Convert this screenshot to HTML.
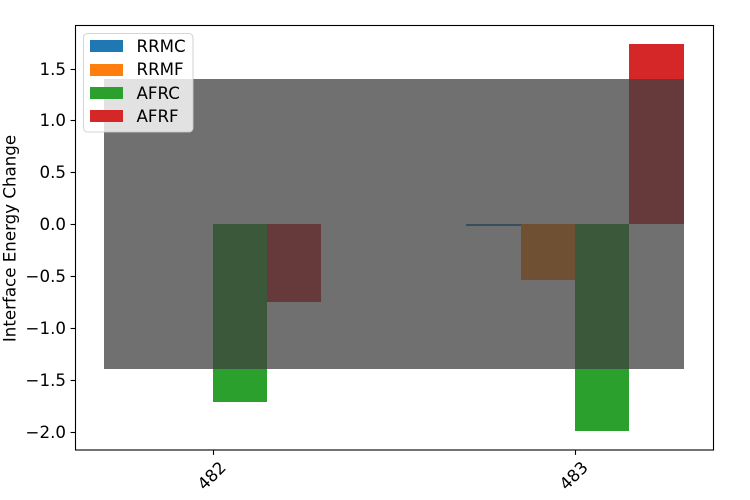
<!DOCTYPE html>
<html>
<head>
<meta charset="utf-8">
<style>
html,body{margin:0;padding:0;background:#fff;width:750px;height:500px;overflow:hidden}
svg{display:block}
text{font-family:"DejaVu Sans","Liberation Sans",sans-serif;font-size:16.67px;fill:#000}
</style>
</head>
<body>
<svg id="chart" xmlns="http://www.w3.org/2000/svg" width="750" height="500" viewBox="0 0 750 500"></svg>
<script>
const categories = ['482', '483'];
const seriesNames = ['RRMC', 'RRMF', 'AFRC', 'AFRF'];
const seriesColors = ['#1f77b4', '#ff7f0e', '#2ca02c', '#d62728'];
const rrmcValues = [0, -0.02];
const rrmfValues = [0, -0.54];
const afrcValues = [-1.71, -1.99];
const afrfValues = [-0.75, 1.74];
const bandRange = [-1.395, 1.40];
const yTicks = [-2, -1.5, -1, -0.5, 0, 0.5, 1, 1.5];
const yTickLabels = ['\u22122.0', '\u22121.5', '\u22121.0', '\u22120.5', '0.0', '0.5', '1.0', '1.5'];
const barSpan = 0.15;
const yAxisTitle = 'Interface Energy Change';

const NS = 'http://www.w3.org/2000/svg';
const svg = document.getElementById('chart');
const plot = { left: 75.5, right: 713.5, top: 25.5, bottom: 450 };
const xPerUnit = 362.3;
const yPerUnit = 103.8;
const xScale = function (v) { return 212.8 + v * xPerUnit; };
const yScale = function (v) { return 224.2 - v * yPerUnit; };
const allSeries = [rrmcValues, rrmfValues, afrcValues, afrfValues];

function make(tag, attrs, parent) {
  const el = document.createElementNS(NS, tag);
  Object.keys(attrs).forEach(function (k) { el.setAttribute(k, attrs[k]); });
  (parent || svg).appendChild(el);
  return el;
}

// Bars (edges snapped to whole pixels)
allSeries.forEach(function (values, s) {
  values.forEach(function (v, c) {
    if (v === 0) return;
    const x0 = Math.round(xScale(c + (s - 2) * barSpan));
    const x1 = Math.round(xScale(c + (s - 1) * barSpan));
    const y0 = Math.round(yScale(Math.max(v, 0)));
    const y1 = Math.round(yScale(Math.min(v, 0)));
    const bar = make('rect', { x: x0, y: y0, width: x1 - x0, height: y1 - y0, fill: seriesColors[s] });
    
    
  });
});

// Translucent band spanning all bars
const bandLeft = Math.round(xScale(-2 * barSpan));
const bandRight = Math.round(xScale(categories.length - 1 + 2 * barSpan));
const bandTop = Math.round(yScale(bandRange[1]));
const bandBottom = Math.round(yScale(bandRange[0]));
const band = make('rect', {
  x: bandLeft, y: bandTop,
  width: bandRight - bandLeft, height: bandBottom - bandTop,
  fill: '#404040', 'fill-opacity': 0.75
});



// Axes frame
const frame = make('rect', {
  x: plot.left, y: plot.top, width: plot.right - plot.left, height: plot.bottom - plot.top,
  fill: 'none', stroke: '#000', 'stroke-width': 1.1
});



// Y ticks
yTicks.forEach(function (t, i) {
  const y = Math.round(yScale(t)) + 0.5;
  const tick = make('line', { x1: plot.left - 4.9, x2: plot.left, y1: y, y2: y, stroke: '#000', 'stroke-width': 1.1 });
  
  
  const label = make('text', { x: 66, y: y + 5.6, 'text-anchor': 'end' });
  label.textContent = yTickLabels[i];
  
  
});

// X ticks
categories.forEach(function (name, c) {
  const x = Math.round(xScale(c)) + 0.5;
  const tick = make('line', { x1: x, x2: x, y1: plot.bottom, y2: plot.bottom + 4.9, stroke: '#000', 'stroke-width': 1.1 });
  
  
  const label = make('text', {
    x: 0, y: 6, 'text-anchor': 'middle',
    transform: 'translate(' + (x - 2) + ' 475.5) rotate(-45)'
  });
  label.textContent = name;
  
  
});

// Y axis title
const yTitle = make('text', { x: 0, y: 0, 'text-anchor': 'middle', transform: 'translate(15.6 238.5) rotate(-90)' });
yTitle.textContent = yAxisTitle;



// Legend
const legend = make('g', {});


const legendBox = make('rect', {
  x: 83.5, y: 33.5, width: 109.5, height: 98.5, rx: 4, ry: 4,
  fill: '#fff', 'fill-opacity': 0.8, stroke: '#ccc', 'stroke-opacity': 0.8, 'stroke-width': 1.1
}, legend);


seriesNames.forEach(function (name, s) {
  const top = 40.3 + s * 23.3;
  const swatch = make('rect', { x: 90, y: Math.round(top), width: 33, height: 12, fill: seriesColors[s] }, legend);
  
  
  const label = make('text', { x: 136.5, y: Math.round(top + 11.7) }, legend);
  label.textContent = name;
  
  
});
</script>
</body>
</html>
